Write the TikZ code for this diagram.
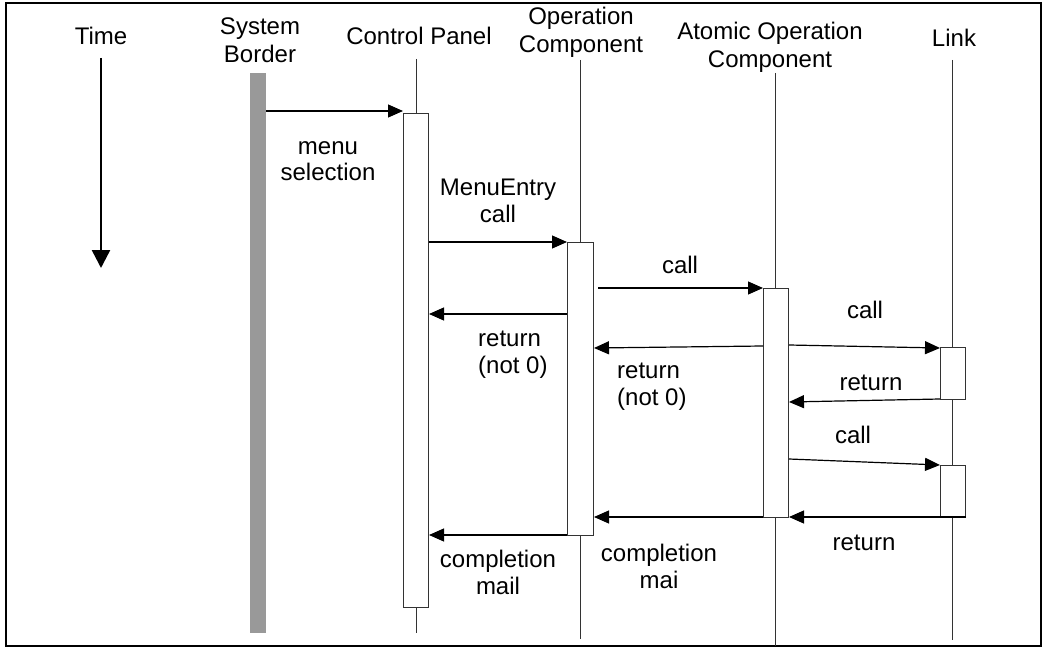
\documentclass[tikz,border=0pt]{standalone}
\usepackage{fontspec}
\setmainfont{Liberation Sans}
\usetikzlibrary{arrows.meta}
\definecolor{bordergray}{HTML}{999999}
\definecolor{lineink}{HTML}{333333}
\begin{document}
\begin{tikzpicture}[x=1pt,y=-1pt,
  lbl/.style={font=\fontsize{24}{27}\selectfont, inner sep=0pt, anchor=base, align=center},
  hdr/.style={lbl, font=\fontsize{24}{28}\selectfont},
  lbll/.style={lbl, align=left, anchor=base west},
  lifeline/.style={line width=1pt, draw=lineink},
  actbox/.style={draw=lineink, fill=white, line width=1pt, inner sep=0pt, anchor=north west},
  msg/.style={line width=1.2pt, -{Triangle[length=15pt,width=13pt]}},
]
\useasboundingbox (0,0) rectangle (1047,650);
\draw[line width=2.5pt] (6,3) rectangle (1041,646);

% time axis
\node[hdr] (time) at (101,45) {Time};
\coordinate (ttop) at (101,58);
\coordinate (tbot) at (101,268);
\draw[line width=2.5pt, -{Triangle[length=18pt,width=18pt]}] (ttop) -- (tbot);

% headers (two-line nodes are placed by the baseline of their last line)
\node[hdr] (hsys) at (260,63) {System\\Border};
\node[hdr] (hcp) at (419,45) {Control Panel};
\node[hdr] (hop) at (581,53) {Operation\\Component};
\node[hdr] (hao) at (770,68) {Atomic Operation\\Component};
\node[hdr] (hln) at (954,47) {Link};

% system border bar
\fill[bordergray] (250,73) rectangle (266,633);
\coordinate (sysr) at (266,111);

% lifelines
\coordinate (cpt) at (416,59);  \coordinate (cpb) at (416,633);
\coordinate (opt) at (580,60);  \coordinate (opb) at (580,639);
\coordinate (aot) at (775,73);  \coordinate (aob) at (775,646);
\coordinate (lnt) at (952,60);  \coordinate (lnb) at (952,640);
\draw[lifeline] (cpt) -- (cpb);
\draw[lifeline] (opt) -- (opb);
\draw[lifeline] (aot) -- (aob);
\draw[lifeline] (lnt) -- (lnb);

% activation bars
\node[actbox, minimum width=25pt, minimum height=494pt] (cpbox) at (403,113) {};
\node[actbox, minimum width=26pt, minimum height=293pt] (opbox) at (567,242) {};
\node[actbox, minimum width=25pt, minimum height=229pt] (aobox) at (763,288) {};
\node[actbox, minimum width=25pt, minimum height=52pt] (lnboxa) at (940,347) {};
\node[actbox, minimum width=25pt, minimum height=52pt] (lnboxb) at (940,465) {};

% message levels
\coordinate (m1) at (0,111);
\coordinate (m2) at (0,242);
\coordinate (m3) at (0,288);
\coordinate (m4) at (0,314);
\coordinate (m5a) at (0,346); \coordinate (m5b) at (0,348);
\coordinate (m6a) at (0,345); \coordinate (m6b) at (0,348);
\coordinate (m7a) at (0,399); \coordinate (m7b) at (0,402);
\coordinate (m8a) at (0,459); \coordinate (m8b) at (0,465);
\coordinate (m9) at (0,517);
\coordinate (m10) at (0,535);
\coordinate (opgap) at (598,288);

% messages
\draw[msg] (sysr) -- (cpbox.west |- m1);
\draw[msg] (cpbox.east |- m2) -- (opbox.west |- m2);
\draw[msg] (opgap) -- (aobox.west |- m3);
\draw[msg] (opbox.west |- m4) -- (cpbox.east |- m4);
\draw[msg] (aobox.west |- m5a) -- (opbox.east |- m5b);
\draw[msg] (aobox.east |- m6a) -- (lnboxa.west |- m6b);
\draw[msg] (lnboxa.west |- m7a) -- (aobox.east |- m7b);
\draw[msg] (aobox.east |- m8a) -- (lnboxb.west |- m8b);
\draw[msg] (lnboxb.east |- m9) -- (aobox.east |- m9);
\draw[msg] (aobox.west |- m9) -- (opbox.east |- m9);
\draw[msg] (opbox.west |- m10) -- (cpbox.east |- m10);

% message labels
\node[lbl] (lmenu) at (328,181) {menu\\selection};
\node[lbl] (lentry) at (498,222) {MenuEntry\\call};
\node[lbl] (lcall1) at (680,273) {call};
\node[lbll] (lret1) at (478,373) {return\\(not 0)};
\node[lbll] (lret2) at (617,405) {return\\(not 0)};
\node[lbl] (lcall2) at (865,318) {call};
\node[lbl] (lret3) at (871,390) {return};
\node[lbl] (lcall3) at (853,443) {call};
\node[lbl] (lret4) at (864,550) {return};
\node[lbl] (lcompa) at (659,588) {completion\\mai};
\node[lbl] (lcompb) at (498,594) {completion\\mail};
\end{tikzpicture}
\end{document}
